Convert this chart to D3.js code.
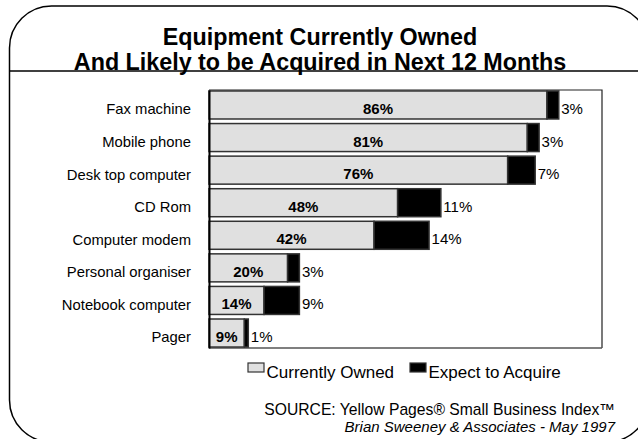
<!DOCTYPE html>
<html>
<head>
<meta charset="utf-8">
<script src="https://cdn.jsdelivr.net/npm/d3@7/dist/d3.min.js"></script>
<style>
  html, body { margin: 0; padding: 0; background: #fff; }
  svg { display: block; font-family: "Liberation Sans", Arial, sans-serif; }
</style>
</head>
<body>
<svg id="chart" width="638" height="439"></svg>
<script>
// Survey data: share of small businesses owning / planning to acquire each item (%)
const categories = ["Fax machine", "Mobile phone", "Desk top computer", "CD Rom",
                    "Computer modem", "Personal organiser", "Notebook computer", "Pager"];
const owned   = [86, 81, 76, 48, 42, 20, 14, 9];
const acquire = [3, 3, 7, 11, 14, 3, 9, 1];
const seriesNames = ["Currently Owned", "Expect to Acquire"];
const titleLines = ["Equipment Currently Owned", "And Likely to be Acquired in Next 12 Months"];
const sourceLines = ["SOURCE: Yellow Pages\u00AE  Small Business Index\u2122",
                     "Brian Sweeney & Associates - May 1997"];

const W = 638, H = 439;
const svg = d3.select("#chart");

const plot = { left: 209, right: 602, top: 90, bottom: 348 };
const ownedFill = "#e0e0e0", acquireFill = "#000000", barStroke = "#333";

// Rounded panel outline (its right side runs past the page edge) and title rule
svg.append("rect")
  .attr("x", 9.5).attr("y", 6).attr("width", 639.5).attr("height", 436)
  .attr("rx", 42).attr("ry", 42)
  .attr("fill", "none").attr("stroke", "#000").attr("stroke-width", 1.5);
svg.append("line")
  .attr("x1", 9.5).attr("x2", W).attr("y1", 71).attr("y2", 71)
  .attr("stroke", "#000").attr("stroke-width", 1.3);

svg.selectAll("text.title").data(titleLines).join("text")
  .attr("class", "title")
  .attr("x", 320).attr("y", (d, i) => 44.5 + i * 25.5)
  .attr("text-anchor", "middle")
  .attr("font-size", 23.3).attr("font-weight", "bold")
  .text(d => d);

const x = d3.scaleLinear().domain([0, 100]).range([plot.left, plot.right]);
const y = d3.scaleBand().domain(categories)
  .range([plot.top, plot.bottom]).paddingInner(0.14).paddingOuter(0.03);

// Plot frame
svg.append("path")
  .attr("d", `M${plot.left},${plot.top}H${plot.right}V${plot.bottom}`)
  .attr("fill", "none").attr("stroke", "#222").attr("stroke-width", 1.2);
svg.append("line")
  .attr("x1", plot.left).attr("x2", plot.right).attr("y1", plot.bottom).attr("y2", plot.bottom)
  .attr("stroke", "#555").attr("stroke-width", 1.5);

const rows = categories.map((c, i) => ({ cat: c, own: owned[i], acq: acquire[i] }));

// Owned segment
svg.selectAll("rect.own").data(rows).join("rect")
  .attr("class", "own")
  .attr("x", x(0)).attr("y", d => y(d.cat))
  .attr("width", d => x(d.own) - x(0)).attr("height", y.bandwidth())
  .attr("fill", ownedFill).attr("stroke", barStroke).attr("stroke-width", 1.5);

// Expect-to-acquire segment stacked after it
svg.selectAll("rect.acq").data(rows).join("rect")
  .attr("class", "acq")
  .attr("x", d => x(d.own)).attr("y", d => y(d.cat))
  .attr("width", d => x(d.own + d.acq) - x(d.own)).attr("height", y.bandwidth())
  .attr("fill", acquireFill).attr("stroke", barStroke).attr("stroke-width", 1.5);

// Left axis with category labels
const yAxis = svg.append("g")
  .attr("transform", `translate(${plot.left},0)`)
  .call(d3.axisLeft(y).tickSize(0).tickPadding(18));
yAxis.select(".domain").attr("stroke", "#000").attr("stroke-width", 2);
yAxis.selectAll("text")
  .attr("font-size", 14.8).attr("font-family", "Liberation Sans, Arial, sans-serif")
  .attr("fill", "#000").attr("dy", "0.64em").attr("y", 0);

const mid = d => y(d.cat) + y.bandwidth() / 2;

svg.selectAll("text.ownLabel").data(rows).join("text")
  .attr("class", "ownLabel")
  .attr("x", d => (x(0) + x(d.own)) / 2).attr("y", d => mid(d) + 9)
  .attr("text-anchor", "middle").attr("font-size", 15).attr("font-weight", "bold")
  .text(d => d.own + "%");

svg.selectAll("text.acqLabel").data(rows).join("text")
  .attr("class", "acqLabel")
  .attr("x", d => x(d.own + d.acq) + 2.5).attr("y", d => mid(d) + 9)
  .attr("font-size", 15)
  .text(d => d.acq + "%");

// Legend
const legendItems = [
  { name: seriesNames[0], fill: ownedFill, x: 248 },
  { name: seriesNames[1], fill: acquireFill, x: 410 }
];
const lg = svg.append("g");
lg.selectAll("rect").data(legendItems).join("rect")
  .attr("x", d => d.x).attr("y", 363).attr("width", 16).attr("height", 9)
  .attr("fill", d => d.fill).attr("stroke", "#333").attr("stroke-width", 1.2);
lg.selectAll("text").data(legendItems).join("text")
  .attr("x", d => d.x + 18.5).attr("y", 377.5)
  .attr("font-size", 17)
  .text(d => d.name);

// Source note
svg.selectAll("text.source").data(sourceLines).join("text")
  .attr("class", "source")
  .attr("x", 615).attr("y", (d, i) => 415 + i * 17)
  .attr("text-anchor", "end")
  .attr("font-size", (d, i) => i === 0 ? 15.7 : 15)
  .attr("font-style", (d, i) => i === 1 ? "italic" : "normal")
  .text(d => d);
</script>
</body>
</html>
